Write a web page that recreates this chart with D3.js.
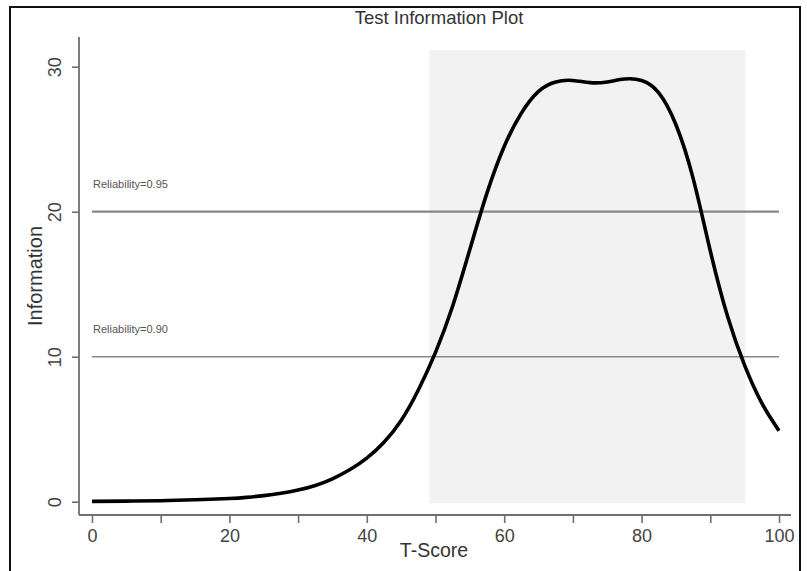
<!DOCTYPE html>
<html>
<head>
<meta charset="utf-8">
<script src="https://cdn.jsdelivr.net/npm/d3@7"></script>
<style>
  body { margin: 0; background: #fff; }
  text { font-family: "Liberation Sans", Arial, sans-serif; }
</style>
</head>
<body>
<script>
// T-score values and test information
const tScores = [0, 5, 10, 15, 20, 22.5, 25, 27.5, 30, 32.5, 35, 37.5, 40, 42.5, 45, 47.5, 50,
  52.5, 55, 57.5, 60, 62.5, 65, 67.5, 70, 72.5, 75, 77.5, 80, 82.5, 85, 87.5, 90, 92.5, 95, 97.5, 100];
const information = [0.02, 0.04, 0.07, 0.13, 0.22, 0.3, 0.42, 0.58, 0.8, 1.12, 1.58, 2.2, 3.0, 4.1, 5.6, 7.7, 10.3,
  13.5, 17.4, 21.3, 24.5, 26.8, 28.3, 28.95, 29.05, 28.9, 28.95, 29.15, 29.05, 28.2, 26.0, 22.3, 17.3, 12.8, 9.4, 6.8, 4.9];

// reliability reference lines
const refValues = [20, 10];
const refLabels = ["Reliability=0.95", "Reliability=0.90"];

// shaded band (T-score range, information range)
const bandX = [49.1, 95.1];
const bandY = [-0.1, 31.15];

const xTicks = d3.range(0, 101, 10);
const xLabels = [0, 20, 40, 60, 80, 100];
const yTicks = [0, 10, 20, 30];

let width = 807;
let height = 571;

let svg = d3.select("body")
  .append("svg")
  .attr("width", width)
  .attr("height", height);

let x = d3.scaleLinear().domain([0, 100]).range([92, 779]);
let y = d3.scaleLinear().domain([0, 30]).range([501.7, 66.7]);

// outer frame
svg.append("rect")
  .attr("x", 10).attr("y", 7)
  .attr("width", 790).attr("height", 600)
  .attr("fill", "none")
  .attr("stroke", "#111")
  .attr("stroke-width", 2);

// shaded band
svg.append("rect")
  .attr("x", x(bandX[0]))
  .attr("y", y(bandY[1]))
  .attr("width", x(bandX[1]) - x(bandX[0]))
  .attr("height", y(bandY[0]) - y(bandY[1]))
  .attr("fill", "#f2f2f2");

// reference lines
svg.selectAll(".ref")
  .data(refValues)
  .enter()
  .append("line")
  .attr("class", "ref")
  .attr("x1", x(0)).attr("x2", x(100))
  .attr("y1", (d) => y(d)).attr("y2", (d) => y(d))
  .attr("stroke", "#888")
  .attr("stroke-width", (d, i) => (i === 0 ? 2.2 : 1.6));

svg.selectAll(".refLabel")
  .data(refLabels)
  .enter()
  .append("text")
  .attr("class", "refLabel")
  .attr("x", x(0) + 1)
  .attr("y", (d, i) => y(refValues[i]) - 24)
  .attr("font-size", 11)
  .attr("fill", "#555")
  .text((d) => d);

// information curve
let line = d3.line()
  .x((d, i) => x(tScores[i]))
  .y((d) => y(d))
  .curve(d3.curveNatural);

svg.append("path")
  .datum(information)
  .attr("d", line)
  .attr("fill", "none")
  .attr("stroke", "#000")
  .attr("stroke-width", 3.6)
  .attr("stroke-linejoin", "round");

// axes
let axisColor = "#6f6f6f";
let xAxisY = 515;
let yAxisX = 79;

svg.append("line")
  .attr("x1", yAxisX).attr("x2", 791)
  .attr("y1", xAxisY).attr("y2", xAxisY)
  .attr("stroke", axisColor).attr("stroke-width", 1.8);

svg.append("line")
  .attr("x1", yAxisX).attr("x2", yAxisX)
  .attr("y1", 37).attr("y2", xAxisY)
  .attr("stroke", axisColor).attr("stroke-width", 1.8);

let xAxis = svg.append("g")
  .attr("transform", "translate(0," + xAxisY + ")")
  .call(d3.axisBottom(x).tickValues(xTicks).tickSize(8).tickSizeOuter(0)
    .tickFormat((d) => (xLabels.includes(d) ? d : "")));
xAxis.select(".domain").remove();
xAxis.selectAll("line").attr("stroke", axisColor).attr("stroke-width", 1.6);
xAxis.selectAll("text")
  .attr("y", 27)
  .attr("dy", 0)
  .attr("font-size", 18)
  .attr("fill", "#444")
  .style("font-family", '"Liberation Sans", Arial, sans-serif');

let yAxis = svg.append("g")
  .attr("transform", "translate(" + yAxisX + ",0)")
  .call(d3.axisLeft(y).tickValues(yTicks).tickSize(7).tickSizeOuter(0));
yAxis.select(".domain").remove();
yAxis.selectAll("line").attr("stroke", axisColor).attr("stroke-width", 1.6);
yAxis.selectAll("text")
  .attr("x", null).attr("dy", null)
  .attr("text-anchor", "middle")
  .attr("transform", "translate(-18,0) rotate(-90)")
  .attr("y", 0)
  .attr("font-size", 18)
  .attr("fill", "#444")
  .style("font-family", '"Liberation Sans", Arial, sans-serif');

// title and axis titles
svg.append("text")
  .attr("x", 439).attr("y", 24)
  .attr("text-anchor", "middle")
  .attr("font-size", 18.5)
  .attr("fill", "#333")
  .text("Test Information Plot");

svg.append("text")
  .attr("x", 434).attr("y", 557)
  .attr("text-anchor", "middle")
  .attr("font-size", 19.5)
  .attr("fill", "#333")
  .text("T-Score");

svg.append("text")
  .attr("transform", "translate(42," + (37 + xAxisY) / 2 + ") rotate(-90)")
  .attr("text-anchor", "middle")
  .attr("font-size", 20)
  .attr("fill", "#333")
  .text("Information");
</script>
</body>
</html>
